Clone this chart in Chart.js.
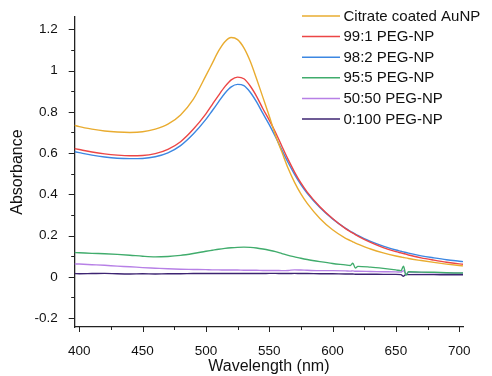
<!DOCTYPE html>
<html>
<head>
<meta charset="utf-8">
<script src="https://cdn.jsdelivr.net/npm/chart.js@4.4.1/dist/chart.umd.min.js"></script>
<style>
  html, body { margin: 0; padding: 0; background: #fff; }
  #wrap { width: 492px; height: 376px; }
</style>
</head>
<body>
<div id="wrap"><canvas id="myChart" width="492" height="376"></canvas></div>
<script>
// wavelength grid (nm)
let wavelength = [396, 400, 410, 420, 430, 440, 450, 460, 470, 480, 490, 500, 505, 510, 515, 520, 525, 530, 535, 540, 545, 550, 555, 560, 565, 570, 575, 580, 590, 600, 610, 614, 616, 618, 620, 630, 640, 650, 654, 656, 658, 660, 670, 680, 690, 700, 703];

let citrate = [0.735, 0.728, 0.716, 0.707, 0.702, 0.700, 0.703, 0.716, 0.740, 0.785, 0.860, 0.975, 1.035, 1.095, 1.140, 1.160, 1.150, 1.110, 1.045, 0.960, 0.870, 0.780, 0.685, 0.605, 0.525, 0.458, 0.402, 0.356, 0.283, 0.228, 0.188, 0.176, 0.170, 0.164, 0.159, 0.135, 0.116, 0.101, 0.096, 0.094, 0.092, 0.089, 0.079, 0.070, 0.062, 0.055, 0.053];
let peg99 = [0.622, 0.617, 0.605, 0.596, 0.590, 0.587, 0.588, 0.597, 0.618, 0.655, 0.715, 0.790, 0.835, 0.880, 0.922, 0.955, 0.968, 0.960, 0.925, 0.875, 0.815, 0.760, 0.700, 0.633, 0.568, 0.508, 0.455, 0.411, 0.340, 0.283, 0.235, 0.219, 0.212, 0.205, 0.198, 0.167, 0.142, 0.122, 0.116, 0.113, 0.110, 0.106, 0.092, 0.081, 0.071, 0.063, 0.061];
let peg98 = [0.607, 0.602, 0.590, 0.581, 0.575, 0.573, 0.574, 0.582, 0.601, 0.636, 0.692, 0.763, 0.805, 0.848, 0.890, 0.921, 0.933, 0.927, 0.895, 0.848, 0.792, 0.738, 0.678, 0.614, 0.553, 0.497, 0.447, 0.405, 0.336, 0.281, 0.236, 0.221, 0.214, 0.207, 0.201, 0.172, 0.149, 0.130, 0.124, 0.121, 0.118, 0.115, 0.102, 0.092, 0.083, 0.076, 0.074];
let peg95 = [0.118, 0.117, 0.114, 0.112, 0.109, 0.105, 0.100, 0.097, 0.099, 0.104, 0.113, 0.124, 0.129, 0.134, 0.138, 0.141, 0.143, 0.144, 0.143, 0.140, 0.135, 0.129, 0.122, 0.113, 0.104, 0.097, 0.090, 0.084, 0.074, 0.065, 0.058, 0.055, 0.066, 0.043, 0.051, 0.047, 0.041, 0.034, 0.030, 0.052, 0.008, 0.025, 0.023, 0.022, 0.020, 0.019, 0.019];
let peg50 = [0.063, 0.062, 0.059, 0.056, 0.052, 0.049, 0.045, 0.042, 0.039, 0.037, 0.036, 0.035, 0.034, 0.034, 0.033, 0.033, 0.033, 0.032, 0.032, 0.032, 0.031, 0.031, 0.031, 0.030, 0.031, 0.034, 0.033, 0.032, 0.030, 0.030, 0.029, 0.028, 0.029, 0.027, 0.027, 0.026, 0.025, 0.024, 0.023, 0.030, 0.014, 0.022, 0.021, 0.020, 0.019, 0.018, 0.018];
let peg0 = [0.016, 0.015, 0.016, 0.017, 0.015, 0.014, 0.015, 0.014, 0.015, 0.015, 0.016, 0.016, 0.016, 0.016, 0.016, 0.016, 0.016, 0.016, 0.016, 0.016, 0.016, 0.017, 0.017, 0.016, 0.016, 0.017, 0.016, 0.016, 0.015, 0.015, 0.014, 0.014, 0.014, 0.013, 0.013, 0.013, 0.012, 0.012, 0.011, 0.003, 0.012, 0.011, 0.011, 0.011, 0.010, 0.010, 0.010];

let seriesNames = ["Citrate coated AuNP", "99:1 PEG-NP", "98:2 PEG-NP", "95:5 PEG-NP", "50:50 PEG-NP", "0:100 PEG-NP"];
let seriesColors = ["#E9AC30", "#EC4646", "#3C87E2", "#40AC6C", "#B780E6", "#3D2472"];
let seriesValues = [citrate, peg99, peg98, peg95, peg50, peg0];

let xTicks = [400, 450, 500, 550, 600, 650, 700];
let yTicks = [-0.2, 0, 0.2, 0.4, 0.6, 0.8, 1, 1.2];
let xMinor = [425, 475, 525, 575, 625, 675];
let yMinor = [-0.1, 0.1, 0.3, 0.5, 0.7, 0.9, 1.1];

let FONT = "Arial, 'Liberation Sans', sans-serif";
let AXIS = "#222";

let datasets = seriesValues.map(function (vals, i) {
  return {
    label: seriesNames[i],
    data: vals.map(function (v, j) { return { x: wavelength[j], y: v }; }),
    borderColor: seriesColors[i],
    borderWidth: 1.4,
    pointRadius: 0,
    fill: false,
    cubicInterpolationMode: "monotone",
  };
});

// tick marks (major + minor) and the legend box
let decor = {
  id: "decor",
  afterDraw: function (chart) {
    let ctx = chart.ctx;
    let xs = chart.scales.x;
    let ys = chart.scales.y;
    let area = chart.chartArea;
    ctx.save();
    ctx.strokeStyle = AXIS;
    ctx.lineWidth = 1;
    ctx.beginPath();
    xTicks.forEach(function (v) {
      let px = Math.round(xs.getPixelForValue(v)) + 0.5;
      ctx.moveTo(px, area.bottom); ctx.lineTo(px, area.bottom + 5);
    });
    xMinor.forEach(function (v) {
      let px = Math.round(xs.getPixelForValue(v)) + 0.5;
      ctx.moveTo(px, area.bottom); ctx.lineTo(px, area.bottom + 3);
    });
    yTicks.forEach(function (v) {
      let py = Math.round(ys.getPixelForValue(v)) + 0.5;
      ctx.moveTo(area.left, py); ctx.lineTo(area.left - 6, py);
    });
    yMinor.forEach(function (v) {
      let py = Math.round(ys.getPixelForValue(v)) + 0.5;
      ctx.moveTo(area.left, py); ctx.lineTo(area.left - 3.5, py);
    });
    ctx.stroke();

    // legend
    ctx.font = "15px " + FONT;
    ctx.textBaseline = "middle";
    ctx.textAlign = "left";
    chart.data.datasets.forEach(function (ds, i) {
      let y = 16 + i * 20.6;
      ctx.strokeStyle = ds.borderColor;
      ctx.lineWidth = 1.5;
      ctx.beginPath();
      ctx.moveTo(302, y); ctx.lineTo(340, y);
      ctx.stroke();
      ctx.fillStyle = "#111";
      ctx.fillText(ds.label, 343.5, y + 0.5);
    });
    ctx.restore();
  },
};

new Chart("myChart", {
  type: "line",
  data: { datasets: datasets },
  options: {
    responsive: false,
    animation: false,
    layout: { padding: { left: 0, right: 29, top: 15, bottom: 0 } },
    plugins: { legend: { display: false }, tooltip: { enabled: false } },
    scales: {
      x: {
        type: "linear",
        min: 396.4,
        max: 703,
        afterBuildTicks: function (scale) { scale.ticks = xTicks.map(function (v) { return { value: v }; }); },
        afterFit: function (scale) { scale.height = 49; },
        grid: { display: false },
        border: { display: true, color: AXIS, width: 1.3 },
        ticks: { color: "#111", font: { size: 13.5, family: FONT }, padding: 8, maxRotation: 0, autoSkip: false },
        title: { display: true, text: "Wavelength (nm)", color: "#111", font: { size: 16, family: FONT }, padding: { top: 0, bottom: 0 } },
      },
      y: {
        min: -0.243,
        max: 1.259,
        afterBuildTicks: function (scale) { scale.ticks = yTicks.map(function (v) { return { value: v }; }); },
        afterFit: function (scale) { scale.width = 74.7; },
        grid: { display: false },
        border: { display: true, color: AXIS, width: 1.3 },
        ticks: {
          color: "#111",
          font: { size: 13.5, family: FONT },
          padding: 9,
          autoSkip: false,
          callback: function (v) { return String(+v.toFixed(1)); },
        },
        title: { display: true, text: "Absorbance", color: "#111", font: { size: 16, family: FONT }, padding: { top: 8, bottom: 0 } },
      },
    },
  },
  plugins: [decor],
});
</script>
</body>
</html>
